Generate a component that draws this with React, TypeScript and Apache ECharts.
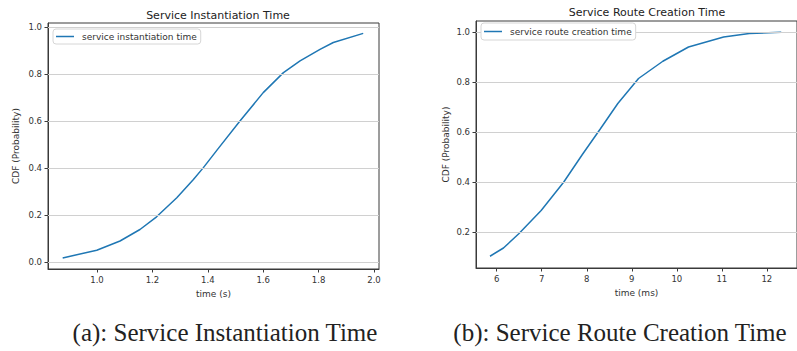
import React, { useEffect, useRef } from "react";
import * as echarts from "echarts";

// ---- Data ----
const instTime = [0.876, 0.999, 1.083, 1.155, 1.215, 1.288, 1.348, 1.384, 1.438, 1.516, 1.6, 1.673, 1.733, 1.805, 1.853, 1.961];
const instCdf = [0.019, 0.052, 0.091, 0.14, 0.194, 0.275, 0.353, 0.403, 0.485, 0.601, 0.722, 0.807, 0.857, 0.906, 0.935, 0.974];

const routeTime = [5.851, 6.15, 6.49, 6.987, 7.486, 7.91, 8.3, 8.69, 9.15, 9.69, 10.26, 11.04, 11.61, 12.32];
const routeCdf = [0.104, 0.137, 0.194, 0.287, 0.4, 0.513, 0.613, 0.715, 0.815, 0.884, 0.941, 0.981, 0.995, 1.0];

const leftXTicks = [1.0, 1.2, 1.4, 1.6, 1.8, 2.0];
const leftYTicks = [0.0, 0.2, 0.4, 0.6, 0.8, 1.0];
const rightXTicks = [6, 7, 8, 9, 10, 11, 12];
const rightYTicks = [0.2, 0.4, 0.6, 0.8, 1.0];

const titles = ["Service Instantiation Time", "Service Route Creation Time"];
const seriesNames = ["service instantiation time", "service route creation time"];
const xNames = ["time (s)", "time (ms)"];
const yName = "CDF (Probability)";
const captions = ["(a): Service Instantiation Time", "(b): Service Route Creation Time"];

const FONT = "DejaVu Sans";
const LINE = "#1f77b4";
const AXIS = "#3a3a3a";

function valueAxis(gridIndex: number, min: number, max: number, ticks: number[], name: string, fmt: (v: number) => string, nameGap: number) {
  return {
    type: "value",
    gridIndex,
    min,
    max,
    name,
    nameLocation: "middle",
    nameGap,
    nameTextStyle: { fontFamily: FONT, fontSize: 9, color: "#333" },
    axisLine: { show: true, onZero: false, lineStyle: { color: AXIS, width: 1 } },
    axisTick: { show: true, inside: false, length: 3.5, customValues: ticks, lineStyle: { color: AXIS } },
    axisLabel: { show: true, customValues: ticks, formatter: fmt, fontFamily: FONT, fontSize: 8.5, color: "#333", margin: 6 },
    splitLine: { show: false },
  };
}

function gridMarkLine(vals: number[]) {
  return {
    silent: true,
    symbol: ["none", "none"],
    label: { show: false },
    lineStyle: { color: "#d0d0d0", type: "solid", width: 1 },
    emphasis: { disabled: true },
    data: vals.map((v) => ({ yAxis: v })),
  };
}

export default function App() {
  const ref = useRef<HTMLDivElement>(null);
  useEffect(() => {
    if (!ref.current) return;
    const chart = echarts.init(ref.current, undefined, { renderer: "svg" });
    const f1 = (v: number) => v.toFixed(1);
    const f0 = (v: number) => String(Math.round(v));
    const legendCommon = {
      orient: "vertical",
      icon: "rect",
      itemWidth: 18,
      itemHeight: 1.5,
      borderColor: "#d6d6d6",
      borderWidth: 1,
      borderRadius: 3,
      backgroundColor: "#ffffff",
      z: 10,
      textStyle: { fontFamily: FONT, fontSize: 9, color: "#333", padding: [0, 0, 0, 3] },
    };
    chart.setOption({
      animation: false,
      backgroundColor: "#ffffff",
      title: [
        { text: titles[0], left: 213, top: 5, textAlign: "center", textStyle: { fontFamily: FONT, fontSize: 11, fontWeight: "normal", color: "#222" } },
        { text: titles[1], left: 642, top: 2, textAlign: "center", textStyle: { fontFamily: FONT, fontSize: 11, fontWeight: "normal", color: "#222" } },
      ],
      legend: [
        { ...legendCommon, data: [seriesNames[0]], left: 53, top: 29, padding: [3, 4, 3, 3] },
        { ...legendCommon, data: [seriesNames[1]], left: 481, top: 23, padding: [4, 4, 4, 3] },
      ],
      grid: [
        { left: 48, top: 23, width: 331, height: 246, show: true, borderColor: AXIS, borderWidth: 1, backgroundColor: "transparent" },
        { left: 476, top: 21, width: 334, height: 247, show: true, borderColor: AXIS, borderWidth: 1, backgroundColor: "transparent" },
      ],
      xAxis: [
        valueAxis(0, 0.823, 2.018, leftXTicks, xNames[0], f1, 20),
        valueAxis(1, 5.54, 12.67, rightXTicks, xNames[1], f0, 20),
      ],
      yAxis: [
        valueAxis(0, -0.028, 1.018, leftYTicks, yName, f1, 28),
        valueAxis(1, 0.057, 1.045, rightYTicks, yName, f1, 26),
      ],
      series: [
        {
          name: seriesNames[0], type: "line", xAxisIndex: 0, yAxisIndex: 0,
          data: instTime.map((t, i) => [t, instCdf[i]]),
          showSymbol: false, smooth: false, lineStyle: { color: LINE, width: 1.5 }, itemStyle: { color: LINE },
          markLine: gridMarkLine(leftYTicks),
        },
        {
          name: seriesNames[1], type: "line", xAxisIndex: 1, yAxisIndex: 1,
          data: routeTime.map((t, i) => [t, routeCdf[i]]),
          showSymbol: false, smooth: false, lineStyle: { color: LINE, width: 1.5 }, itemStyle: { color: LINE },
          markLine: gridMarkLine(rightYTicks),
        },
      ],
      graphic: [
        { type: "text", x: 225, y: 332, style: { text: captions[0], fontFamily: "Liberation Serif", fontSize: 25, fill: "#222", textAlign: "center", textVerticalAlign: "middle" } },
        { type: "text", x: 620, y: 332, style: { text: captions[1], fontFamily: "Liberation Serif", fontSize: 25, fill: "#222", textAlign: "center", textVerticalAlign: "middle" } },
      ],
    });
    return () => chart.dispose();
  }, []);
  return <div ref={ref} style={{ position: "fixed", left: 0, top: 0, width: 797, height: 351 }} />;
}
